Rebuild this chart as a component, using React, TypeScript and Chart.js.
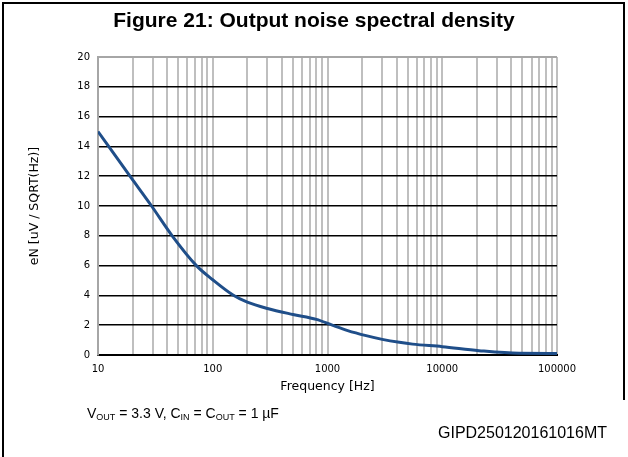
import React, { useEffect, useRef } from "react";
import { Chart, registerables } from "chart.js";

Chart.register(...registerables);

const frequencies = [10, 19, 29.3, 44.3, 72, 100, 150, 200, 300, 500, 800, 1100, 1500, 2170, 3000, 4230, 5520, 10000, 20900, 46800, 100000];
const noise = [15.0, 12.0, 10.0, 8.0, 6.0, 5.05, 4.03, 3.55, 3.12, 2.72, 2.39, 2.0, 1.64, 1.3, 1.05, 0.85, 0.73, 0.56, 0.29, 0.11, 0.1];
const xTickValues = [10, 20, 30, 40, 50, 60, 70, 80, 90, 100, 200, 300, 400, 500, 600, 700, 800, 900, 1000, 2000, 3000, 4000, 5000, 6000, 7000, 8000, 9000, 10000, 20000, 30000, 40000, 50000, 60000, 70000, 80000, 90000, 100000];
const xTickLabels = ["10", "100", "1000", "10000", "100000"];
const yTickValues = [0, 2, 4, 6, 8, 10, 12, 14, 16, 18, 20];

export default function App() {
  const ref = useRef<HTMLCanvasElement>(null);
  useEffect(() => {
    if (!ref.current) return;
    const chart = new Chart(ref.current, {
      type: "line",
      data: {
        datasets: [
          {
            data: frequencies.map((f, i) => ({ x: f, y: noise[i] })),
            borderColor: "#1f4e89",
            borderWidth: 3,
            pointRadius: 0,
            cubicInterpolationMode: "monotone",
            fill: false,
          },
        ],
      },
      options: {
        animation: false,
        responsive: false,
        maintainAspectRatio: false,
        layout: { padding: { left: 0, right: 71, top: 57, bottom: 0 } },
        plugins: { legend: { display: false }, title: { display: false }, tooltip: { enabled: false } },
        scales: {
          x: {
            type: "logarithmic",
            min: 10,
            max: 100000,
            afterBuildTicks: (s: any) => {
              s.ticks = xTickValues.map((v) => ({ value: v }));
            },
            afterFit: (s: any) => {
              s.height = 102;
            },
            ticks: {
              autoSkip: false,
              maxRotation: 0,
              padding: 8,
              color: "#000",
              font: { family: "DejaVu Sans", size: 10 },
              callback: (v: any) => {
                const s = String(v);
                return xTickLabels.includes(s) ? s : "";
              },
            },
            grid: {
              drawTicks: false,
              color: "#bfbfbf",
              lineWidth: 2,
            },
            border: { display: true, color: "#000", width: 2 },
            title: {
              display: true,
              text: "Frequency [Hz]",
              color: "#000",
              font: { family: "DejaVu Sans", size: 12.5 },
              padding: { top: 0, bottom: 62.5 },
            },
          },
          y: {
            type: "linear",
            min: 0,
            max: 20,
            afterBuildTicks: (s: any) => {
              s.ticks = yTickValues.map((v) => ({ value: v }));
            },
            afterFit: (s: any) => {
              s.width = 98;
            },
            ticks: {
              padding: 8,
              color: "#000",
              font: { family: "DejaVu Sans", size: 10 },
            },
            grid: {
              drawTicks: false,
              color: (c: any) => (c.tick && c.tick.value === 20 ? "#a6a6a6" : "#000"),
              lineWidth: (c: any) => (c.tick && c.tick.value === 20 ? 2 : 1.5),
            },
            border: { display: true, color: "#a6a6a6", width: 2 },
            title: {
              display: true,
              text: "eN [uV / SQRT(Hz)]",
              color: "#000",
              font: { family: "DejaVu Sans", size: 12.5 },
              padding: { top: 27.5, bottom: 0 },
            },
          },
        },
      },
    });
    return () => chart.destroy();
  }, []);

  const arial = "'Liberation Sans', Arial, sans-serif";
  const subStyle = { fontSize: 9, verticalAlign: "-2px", lineHeight: 0 } as const;
  return (
    <div style={{ position: "fixed", left: 0, top: 0, width: 628, height: 457, background: "#fff", overflow: "hidden" }}>
      <canvas ref={ref} width={628} height={457} style={{ position: "absolute", left: 0, top: 0, width: 628, height: 457 }} />
      <div style={{ position: "absolute", left: 2, top: 2, width: 2, height: 455, background: "#000" }} />
      <div style={{ position: "absolute", left: 2, top: 2, width: 623, height: 2, background: "#000" }} />
      <div style={{ position: "absolute", left: 623, top: 2, width: 2, height: 398, background: "#000" }} />
      <div style={{ position: "absolute", left: 0, width: 628, top: 7, textAlign: "center", fontFamily: arial, fontWeight: "bold", fontSize: 21, lineHeight: "26px", color: "#000" }}>
        Figure 21: Output noise spectral density
      </div>
      <div style={{ position: "absolute", left: 87, top: 404, fontFamily: arial, fontSize: 14, lineHeight: "18px", color: "#000", whiteSpace: "nowrap" }}>
        V<sub style={subStyle}>OUT</sub> = 3.3 V, C<sub style={subStyle}>IN</sub> = C<sub style={subStyle}>OUT</sub> = 1 µF
      </div>
      <div style={{ position: "absolute", left: 438, top: 423, fontFamily: arial, fontSize: 16, lineHeight: "20px", color: "#000", whiteSpace: "nowrap" }}>
        GIPD250120161016MT
      </div>
    </div>
  );
}
